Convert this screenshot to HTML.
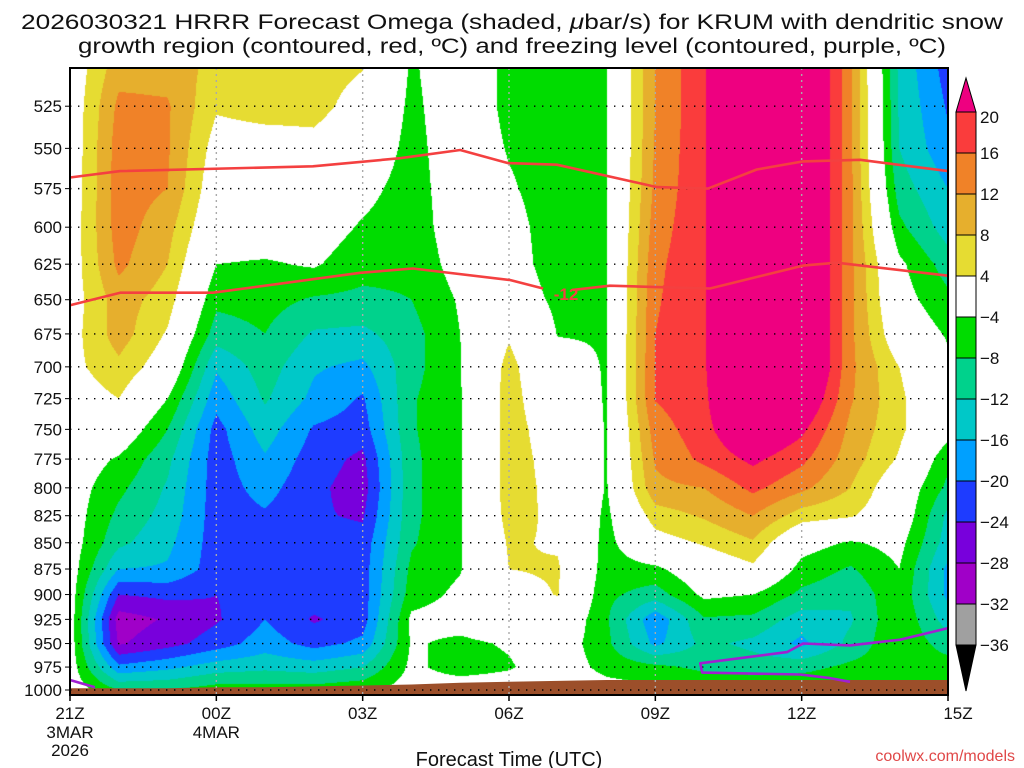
<!DOCTYPE html>
<html><head><meta charset="utf-8"><title>HRRR Omega KRUM</title>
<style>
html,body{margin:0;padding:0;background:#fff;width:1024px;height:768px;overflow:hidden}
#wrap{position:relative;width:1024px;height:768px}
canvas{position:absolute;left:70px;top:68px}
svg{position:absolute;left:0;top:0}
text{font-family:"Liberation Sans",sans-serif;fill:#111}
</style></head>
<body>
<div id="wrap">
<canvas id="field" width="878" height="627"></canvas>
<svg id="ov" width="1024" height="768">
<text x="512" y="29" text-anchor="middle" font-size="21" textLength="982" lengthAdjust="spacingAndGlyphs">2026030321 HRRR Forecast Omega (shaded, <tspan font-style="italic">μ</tspan>bar/s) for KRUM with dendritic snow</text>
<text x="512" y="53" text-anchor="middle" font-size="21" textLength="868" lengthAdjust="spacingAndGlyphs">growth region (contoured, red, ºC) and freezing level (contoured, purple, ºC)</text>
<text x="509" y="766" text-anchor="middle" font-size="20">Forecast Time (UTC)</text>
<text x="1015" y="761" text-anchor="end" font-size="16" style="fill:#e04848">coolwx.com/models</text>
<g id="layer"></g>
</svg>
</div>
<script>
// ---- data ----
const hours = [0,1,2,3,4,5,6,7,8,9,10,11,12,13,14,15,16,17,18];
const levels = [500,525,550,575,600,625,650,675,700,725,750,775,800,825,850,875,900,925,950,975,1000];
const tickLevels = [525,550,575,600,625,650,675,700,725,750,775,800,825,850,875,900,925,950,975,1000];
const timeTickHours = [0,3,6,9,12,15,18];
const timeTickLabels = ["21Z","00Z","03Z","06Z","09Z","12Z","15Z"];
const timeTickDates = ["3MAR\n2026","4MAR","","","","",""];
const omegaH0 = [0.5,0.5,0.5,0.8,1,1.2,1.5,2,2.5,1,0,-1,-1.5,-1.5,-1.5,-1.5,-1.5,-1.5,-1.5,-1.5,-1];
const omegaH1 = [10,13,14,14,14,13,10,10,7,4,0,-4.5,-7,-9,-11,-16,-24,-30,-28.5,-19,-8];
const omegaH2 = [10,12.5,12.5,12,9.5,8,6,3.5,1,-4,-8,-11,-12.5,-13.5,-15,-16.5,-23,-27.5,-25.5,-17,-8];
const omegaH3 = [7,4.5,2,0.5,-1,-4,-7,-10,-15.5,-18.5,-21.5,-22,-22,-22,-22,-22,-24,-24.5,-22,-14,-6];
const omegaH4 = [7,5.5,2,0,-1,-4.5,-6.5,-8,-10,-11.5,-14,-16.5,-18.5,-20.5,-22,-22,-22,-20,-18,-13,-6];
const omegaH5 = [6,5.5,2.5,0,-1.5,-3.5,-8.5,-12.5,-15.5,-17,-20.5,-22,-23,-23.5,-22.5,-22,-22,-24.5,-21.5,-14,-6];
const omegaH6 = [4.5,2,0,-2.5,-4.5,-6.5,-9,-13,-17,-20.5,-22,-25,-26,-24.5,-22.5,-22,-22,-22,-19,-12,-5];
const omegaH7 = [-4.5,-5,-5.5,-6,-6.5,-7,-8,-9.5,-9.5,-8.5,-8.5,-9,-9,-9,-8.5,-7,-6,-3,-3.5,-3,-2];
const omegaH8 = [-1,-1,-1,-1,-1,-2,-3.5,-4,-4.2,-4.3,-4.3,-4.3,-4.3,-4.3,-4.3,-4.3,-3,-2,-5,-6,-1];
const omegaH9 = [-5,-5,-4.3,-3.5,-2.5,-2,-1,3.5,5.5,6,6,6,6,5.5,4.5,4,2,0,-3.5,-4.5,-1];
const omegaH10 = [-6,-6,-6,-6,-6,-6,-5,-4.2,-2,-1,1,2,2.5,3,3.5,4.5,4.2,1,-1,-1,0];
const omegaH11 = [-4.3,-4.3,-4.3,-4.3,-4.3,-4.3,-4.3,-4.3,-4.3,-4.3,-4.3,-4.3,-4.3,-5,-5.5,-6,-7,-7.5,-7,-5.5,-2];
const omegaH12 = [12,12,12.5,13,14,15,15.5,16,16.2,16.2,14,12.5,11,6,2,-5,-10,-19,-17,-7,-3];
const omegaH13 = [19.5,19.5,19.5,19.5,19.5,19.5,19.5,19.5,19.5,19,18.5,17,12,8.5,4.5,0,-3,-8.5,-11,-9,-4];
const omegaH14 = [31,31,31,31,31,31,31,31,31,31,26,21,17,12,7.5,3,-4,-9,-13,-10,-4];
const omegaH15 = [30,30,30,30,30,30,30,30,30,26,21,17,13,6,-2,-5.5,-9,-14,-17,-9.5,-4];
const omegaH16 = [13,13,13,13,13,13,13,13,13,12.5,11,10,8,4.5,-4.5,-8.5,-11,-12.5,-11,-7,-3];
const omegaH17 = [-13,-12.5,-12,-10,-7,-3,-2,0,4,5,5,3.5,0,0,-2.5,-4,-5,-4.5,-4.5,-6,-3];
const omegaH18 = [-22,-20.5,-19,-16,-14,-10,-7,-4.5,-3,-2,-2,-7,-9,-13,-14,-17,-17,-14,-10,-6,-3];
const dendUpperHours = [0,1.03,4.98,6.77,8.0,8.98,9.98,12.03,13.08,14.08,15.03,16.2,18];
const dendUpperP = [568,564,561,556,551,559,560,574,575,563,558,557,564];
const dendLowerHours = [0,1.03,2.93,5.95,7.03,9.02,9.7];
const dendLowerP = [654,645,645,631,628,636,642];
const dendLower2Hours = [10.31,11.07,12.03,13.12,15.03,15.72,18];
const dendLower2P = [643,640,641,642,626,624,633];
const frzHours = [15.99,15.58,14.97,12.96,12.92,14.7,15.03,15.99,17.02,18];
const frzP = [991,987,983,981,971,959,950,952,946,934];
const frzLeftHours = [0,0.51];
const frzLeftP = [989,997];
const surfaceP = [998,998,998,997,997,996,995,994,992,991,990,989,989,989,989,989,989,989,989];
const cbarLabels = ["20","16","12","8","4","-4","-8","-12","-16","-20","-24","-28","-32","-36"];

const omega = [omegaH0,omegaH1,omegaH2,omegaH3,omegaH4,omegaH5,omegaH6,omegaH7,omegaH8,omegaH9,omegaH10,omegaH11,omegaH12,omegaH13,omegaH14,omegaH15,omegaH16,omegaH17,omegaH18];

// ---- scales ----
const X0=70, X1=948, YTOP=68, YBOT=695;
function xOf(h){return X0+(X1-X0)*h/18;}
function hOf(x){return (x-X0)*18/(X1-X0);}
function yOf(p){return 690-906*Math.log(1000/p);}
function pOf(y){return 1000*Math.exp(-(690-y)/906);}

const bounds=[20,16,12,8,4,-4,-8,-12,-16,-20,-24,-28,-32,-36];
const cols=["#ee0080","#fa3c3c","#f08228","#e6af2d","#e6dc32","#ffffff","#00dc00","#00d28c","#00c8c8","#00a0ff","#1e3cff","#7800dc","#a000c8","#a0a0a0","#000000"];
function colorIdx(v){for(let i=0;i<bounds.length;i++){if(v>=bounds[i])return i;}return bounds.length;}
function hex(c){return [parseInt(c.substr(1,2),16),parseInt(c.substr(3,2),16),parseInt(c.substr(5,2),16)];}
const rgb=cols.map(hex);

// ---- field ----
const cv=document.getElementById('field'), ctx=cv.getContext('2d');
const W=cv.width,H=cv.height, img=ctx.createImageData(W,H);
for(let py=0;py<H;py++){
  const p=Math.min(1000,Math.max(500,pOf(YTOP+py+0.5)));
  const r=(p-500)/25, r0=Math.min(Math.floor(r),levels.length-2), fr=r-r0;
  for(let px=0;px<W;px++){
    const h=Math.min(18,Math.max(0,hOf(X0+px+0.5)));
    const c0=Math.min(Math.floor(h),hours.length-2), fc=h-c0;
    const v=(omega[c0][r0]*(1-fc)+omega[c0+1][r0]*fc)*(1-fr)+(omega[c0][r0+1]*(1-fc)+omega[c0+1][r0+1]*fc)*fr;
    const k=rgb[colorIdx(v)], o=(py*W+px)*4;
    img.data[o]=k[0];img.data[o+1]=k[1];img.data[o+2]=k[2];img.data[o+3]=255;
  }
}
ctx.putImageData(img,0,0);

// ---- overlay ----
const NS="http://www.w3.org/2000/svg", layer=document.getElementById('layer');
function mk(tag,attrs){const e=document.createElementNS(NS,tag);for(const k in attrs)e.setAttribute(k,attrs[k]);layer.appendChild(e);return e;}

// ground
let gd="M"+X0+","+YBOT;
for(let i=0;i<hours.length;i++) gd+=" L"+xOf(hours[i]).toFixed(1)+","+yOf(surfaceP[i]).toFixed(1);
gd+=" L"+X1+","+YBOT+" Z";
const ground=mk('path',{d:gd,fill:"#9c4f2a"});



// horizontal grid + y labels
tickLevels.forEach(p=>{
  const y=yOf(p);
  const gl=mk('line',{x1:X0,x2:X1,y1:y,y2:y,stroke:"#000","stroke-width":1.4,"stroke-dasharray":"1.4,6.6"});
  
  
  const tk=mk('line',{x1:X0-5,x2:X0,y1:y,y2:y,stroke:"#000","stroke-width":1});
  
  
  const t=mk('text',{x:62,y:y+6,"text-anchor":"end","font-size":17});
  t.textContent=p;
  
  
});
// vertical grid + x labels
timeTickHours.forEach((h,i)=>{
  const x=xOf(h);
  if(h>0&&h<18){
    const vl=mk('line',{x1:x,x2:x,y1:YTOP,y2:YBOT,stroke:"#aaa","stroke-width":1.4,"stroke-dasharray":"2,4"});
    
    
  }
  const tk=mk('line',{x1:x,x2:x,y1:YBOT,y2:YBOT+6,stroke:"#000","stroke-width":1.5});
  
  
  const t=mk('text',{x:x+(h==18?10:0),y:719,"text-anchor":"middle","font-size":17});
  t.textContent=timeTickLabels[i];
  
  
  timeTickDates[i].split("\n").forEach((s,j)=>{
    if(!s)return;
    const d=mk('text',{x:x,y:738+j*18,"text-anchor":"middle","font-size":17});
    d.textContent=s;
    
    
  });
});

function poly(hs,ps,stroke,w,name){
  const pts=hs.map((h,i)=>xOf(h).toFixed(1)+","+yOf(ps[i]).toFixed(1)).join(" ");
  const e=mk('polyline',{points:pts,fill:"none",stroke:stroke,"stroke-width":w,"stroke-linejoin":"round"});
  
  
}
poly(dendUpperHours,dendUpperP,"#f44040",2.6,'dendritic-upper-isotherm');
poly(dendLowerHours,dendLowerP,"#f44040",2.6,'dendritic-lower-isotherm');
poly(dendLower2Hours,dendLower2P,"#f44040",2.6,'dendritic-lower-isotherm-right');
poly(frzHours,frzP,"#a020d0",2.6,'freezing-level-line');
poly(frzLeftHours,frzLeftP,"#a020d0",2.6,'freezing-level-line-left');
const lab=mk('text',{x:566,y:300,"text-anchor":"middle","font-size":17,"font-weight":"bold",style:"fill:#f44040"});
lab.textContent="-12";



// frame
const fr=mk('rect',{x:X0,y:YTOP,width:X1-X0,height:YBOT-YTOP,fill:"none",stroke:"#000","stroke-width":2});



// colorbar
const CBX=956, CBW=20, CBTOP=112, STEP=41;
const tri=mk('polygon',{points:`${CBX},${CBTOP} ${CBX+CBW/2},${CBTOP-34} ${CBX+CBW},${CBTOP}`,fill:cols[0],stroke:"#000","stroke-width":1});


for(let i=1;i<=13;i++){
  const r=mk('rect',{x:CBX,y:CBTOP+(i-1)*STEP,width:CBW,height:STEP,fill:cols[i],stroke:"#000","stroke-width":1});
  
  
}
const tri2=mk('polygon',{points:`${CBX},${CBTOP+13*STEP} ${CBX+CBW/2},${CBTOP+13*STEP+46} ${CBX+CBW},${CBTOP+13*STEP}`,fill:"#000",stroke:"#000","stroke-width":1});


cbarLabels.forEach((s,i)=>{
  const t=mk('text',{x:980,y:CBTOP+i*STEP+(i==0?11:6),"font-size":17});
  t.textContent=s.replace("-","\u2212");
  
  
});
</script>
</body></html>
